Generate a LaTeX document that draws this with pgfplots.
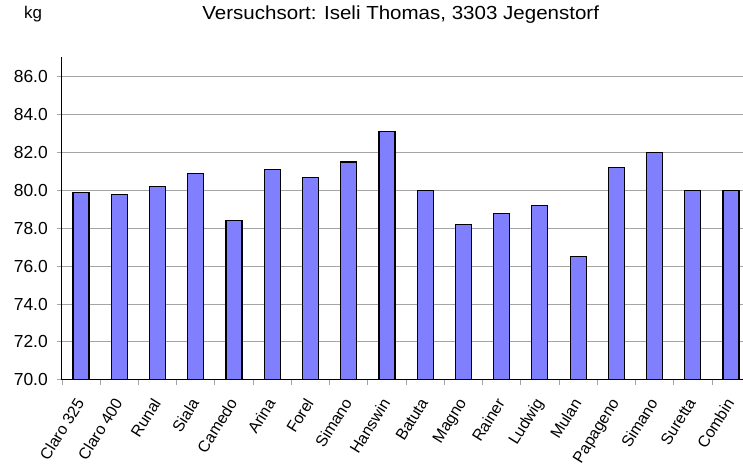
\documentclass[border=0pt]{standalone}
\usepackage{pgfplots}
\pgfplotsset{compat=1.18}
\usepackage{fontspec}
\setmainfont{Liberation Sans}
\newfontfamily\widefont[FakeStretch=1.085]{Liberation Sans}
\definecolor{barblue}{RGB}{128,128,255}
\definecolor{gridgray}{RGB}{165,165,165}
\begin{document}
\begin{tikzpicture}
\path (0,0) rectangle (743bp,475bp);
\node[font=\widefont\fontsize{19}{22}\selectfont] at (401bp,460bp) {Versuchsort: Iseli Thomas, 3303 Jegenstorf};
\node[font=\fontsize{17}{20}\selectfont] at (33bp,461bp) {kg};
\begin{axis}[
  at={(62bp,95bp)}, anchor=south west,
  scale only axis, width=681bp, height=323bp,
  xmin=-0.5, xmax=17.3, ymin=70, ymax=87.05,
  axis x line*=bottom, axis y line*=left,
  axis line style={black, line width=1bp, -},
  tick align=outside,
  major tick length=5bp,
  xtick={0,...,17},
  xticklabels={Claro 325,Claro 400,Runal,Siala,Camedo,Arina,Forel,Simano,Hanswin,Batuta,Magno,Rainer,Ludwig,Mulan,Papageno,Simano,Suretta,Combin},
  xticklabel style={xshift=-6bp, yshift=-12bp, rotate=58, anchor=north east, inner sep=0pt, font=\fontsize{16}{19}\selectfont},
  major x tick style={draw=none},
  minor xtick={-0.5,0.5,...,16.5},
  minor tick length=5bp,
  minor x tick style={gridgray, line width=0.8bp},
  ytick={70,72,...,86},
  y tick label style={font=\fontsize{17.5}{20}\selectfont, inner sep=2bp, xshift=-7bp,
    /pgf/number format/fixed, /pgf/number format/fixed zerofill,
    /pgf/number format/precision=1, /pgf/number format/assume math mode=true},
  major y tick style={gridgray, line width=0.8bp},
  ymajorgrids, grid style={gridgray, line width=0.8bp},
]
\addplot[ybar, bar width=16bp, fill=barblue, draw=black, line width=1.2bp] coordinates {
(0,79.9) (1,79.8) (2,80.2) (3,80.9) (4,78.4) (5,81.1) (6,80.7) (7,81.5) (8,83.1)
(9,80.0) (10,78.2) (11,78.8) (12,79.2) (13,76.5) (14,81.2) (15,82.0) (16,80.0) (17,80.0)
};
\end{axis}
\end{tikzpicture}
\end{document}
